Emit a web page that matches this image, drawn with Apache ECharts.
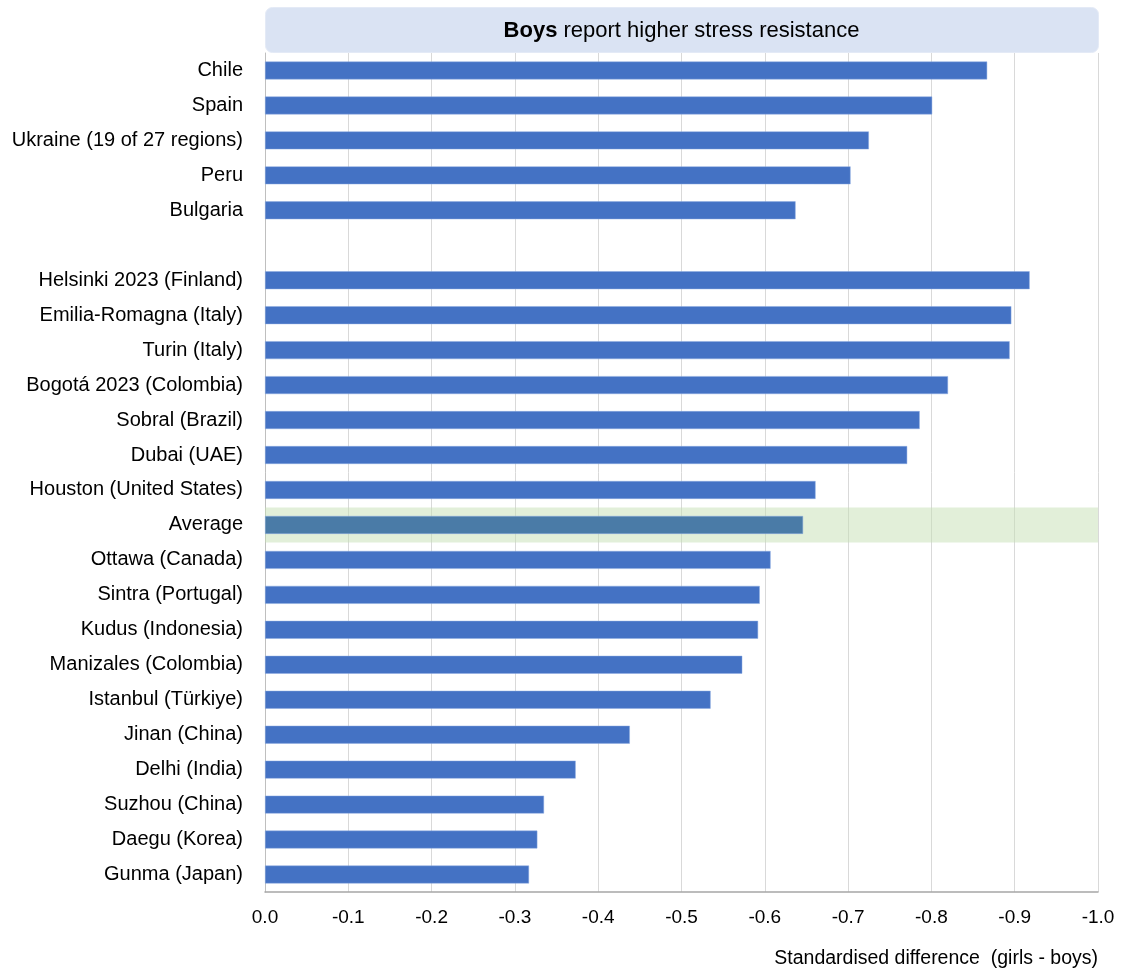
<!DOCTYPE html>
<html>
<head>
<meta charset="utf-8">
<script src="https://cdn.jsdelivr.net/npm/echarts@6/dist/echarts.min.js"></script>
<style>
html,body{margin:0;padding:0;background:#fff;}
#chart{width:1121px;height:973px;}
</style>
</head>
<body>
<div id="chart"></div>
<script>
var categories = [
  'Chile','Spain','Ukraine (19 of 27 regions)','Peru','Bulgaria','',
  'Helsinki 2023 (Finland)','Emilia-Romagna (Italy)','Turin (Italy)','Bogotá 2023 (Colombia)',
  'Sobral (Brazil)','Dubai (UAE)','Houston (United States)','Average','Ottawa (Canada)',
  'Sintra (Portugal)','Kudus (Indonesia)','Manizales (Colombia)','Istanbul (Türkiye)',
  'Jinan (China)','Delhi (India)','Suzhou (China)','Daegu (Korea)','Gunma (Japan)'
];
var values = [
  -0.867,-0.801,-0.725,-0.703,-0.637,null,
  -0.918,-0.896,-0.894,-0.820,
  -0.786,-0.771,-0.661,-0.646,-0.607,
  -0.594,-0.592,-0.573,-0.535,
  -0.438,-0.373,-0.335,-0.327,-0.317
];
var highlightCategory = 'Average';
var xMin = -1.0, xMax = 0, xStep = 0.1;
var titleBold = 'Boys';
var titleRest = ' report higher stress resistance';
var axisTitle = 'Standardised difference  (girls - boys)';

var FONT = "'Liberation Sans Narrow','Arial Narrow','Liberation Sans',Arial,sans-serif";

var GRID = {left: 265, right: 23, top: 53, bottom: 81};
var plotW = 1121 - GRID.left - GRID.right;

var barData = values.map(function(v, i){
  if (categories[i] === highlightCategory) {
    return {value: v, itemStyle: {color: '#4a7ba7'}};
  }
  return v;
});
var bandData = categories.map(function(c){ return c === highlightCategory ? xMin : null; });

var chart = echarts.init(document.getElementById('chart'), null, {renderer:'canvas'});
chart.setOption({
  animation: false,
  backgroundColor: '#ffffff',
  grid: {left: GRID.left, right: GRID.right, top: GRID.top, bottom: GRID.bottom, containLabel: false},
  xAxis: {
    type: 'value', min: xMin, max: xMax, interval: xStep, inverse: true,
    axisLine: {show: true, lineStyle: {color: '#a6a6a6', width: 1.5}},
    axisTick: {show: false},
    splitLine: {show: true, lineStyle: {color: '#d9d9d9', width: 1}},
    axisLabel: {
      color: '#000', fontFamily: FONT, fontSize: 19, margin: 16,
      formatter: function(v){ return v.toFixed(1); }
    }
  },
  yAxis: [{
    type: 'category', data: categories, inverse: true,
    axisLine: {show: true, lineStyle: {color: '#bfbfbf', width: 1}},
    axisTick: {show: false},
    axisLabel: {color: '#000', fontFamily: FONT, fontSize: 20, margin: 22}
  },{
    type: 'category', data: categories, inverse: true, show: false,
    axisLine: {show:false}, axisTick:{show:false}, axisLabel:{show:false}
  }],
  series: [{
    type: 'bar', yAxisIndex: 1, data: bandData, barWidth: '100%', z: 1,
    itemStyle: {color: 'rgba(198,224,180,0.5)'}, silent: true
  },{
    type: 'bar', yAxisIndex: 0, data: barData, barWidth: 18, z: 3,
    itemStyle: {color: '#4472c4', borderColor: 'rgba(140,170,225,0.8)', borderWidth: 0.6}
  }],
  graphic: [{
    type: 'rect', left: GRID.left, top: 7, z: 10,
    shape: {width: plotW, height: 45, r: 7},
    style: {fill: '#dae3f3', stroke: '#e4eaf6', lineWidth: 1}
  },{
    type: 'text', z: 11, x: GRID.left + plotW / 2, y: 31,
    style: {
      text: '{b|' + titleBold + '}{n|' + titleRest + '}',
      align: 'center', verticalAlign: 'middle',
      textAlign: 'center', textVerticalAlign: 'middle',
      rich: {
        b: {fontFamily: FONT, fontSize: 22, fontWeight: 'bold', fill: '#000', color: '#000'},
        n: {fontFamily: FONT, fontSize: 22, fill: '#000', color: '#000'}
      }
    }
  },{
    type: 'text', z: 11, right: GRID.right, top: 949,
    style: {text: axisTitle, font: '19.5px ' + FONT, fill: '#000'}
  }]
});
</script>
</body>
</html>
